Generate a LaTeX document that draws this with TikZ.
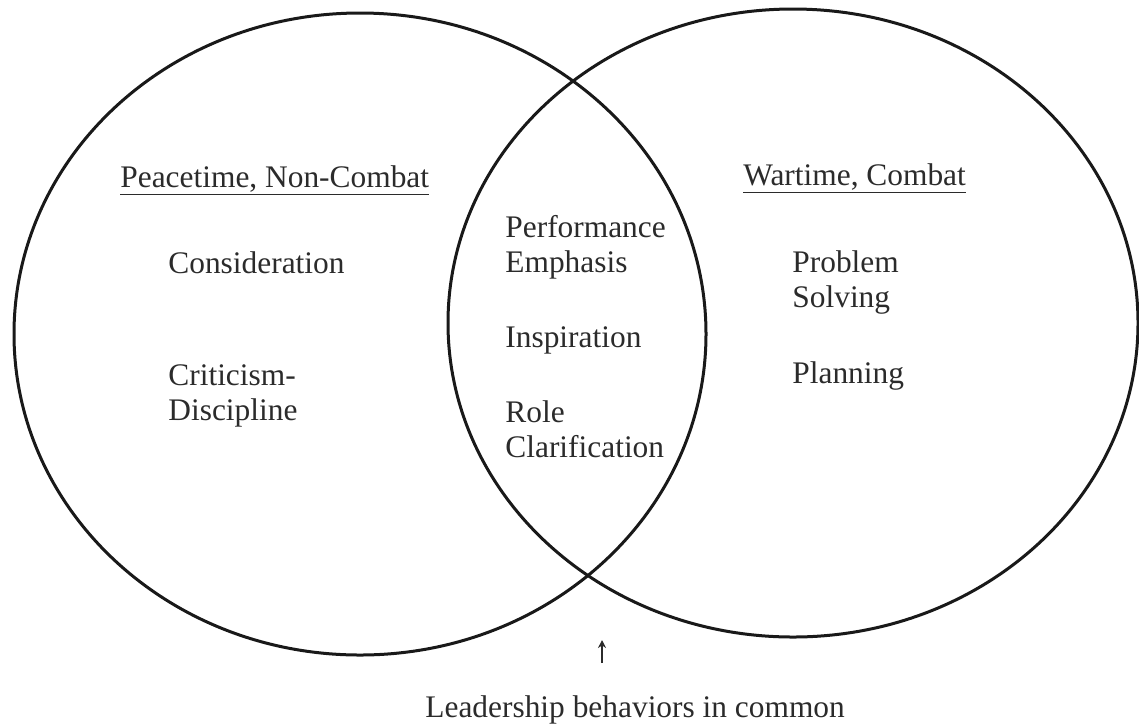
\documentclass[tikz,border=0pt]{standalone}
\usepackage{fontspec}
\setmainfont{Liberation Serif}
\usepackage{tikz}
\usetikzlibrary{arrows.meta}
\definecolor{ink}{HTML}{2B2B2B}

\tikzset{
  circ/.style={draw=black!90, line width=1.5pt},
  % base anchor of a two-line item is the baseline of its last line
  item/.style={anchor=base west, align=left, inner sep=0pt, text=ink,
               font=\fontsize{15.7}{17.5}\selectfont},
}

\begin{document}
\begin{tikzpicture}[x=0.5pt, y=-0.5pt]
    \useasboundingbox (0,0) rectangle (1139,725);

    % the two sets
    \draw[circ] (360,334) ellipse [x radius=346, y radius=321];
    \draw[circ] (793,323) ellipse [x radius=345, y radius=314];

    % left set
    \node[item] (peace)  at (120,187) {\underline{Peacetime, Non-Combat}};
    \node[item] (consid) at (168,273) {Consideration};
    \node[item] (critic) at (168,420) {Criticism-\\Discipline};

    % overlap
    \node[item] (perf)   at (505,272) {Performance\\Emphasis};
    \node[item] (inspir) at (505,347) {Inspiration};
    \node[item] (role)   at (505,457) {Role\\Clarification};

    % right set
    \node[item] (war)     at (743,185) {\underline{Wartime, Combat}};
    \node[item] (problem) at (792,307) {Problem\\Solving};
    \node[item] (plan)    at (792,383) {Planning};

    % caption under the overlap
    \node[item] (common) at (425,717) {Leadership behaviors in common};
    \coordinate (tail) at (602,663);
    \coordinate (tip)  at (602,640);
    \draw[ink, line width=0.7pt, -{Stealth[length=4pt, width=4pt]}] (tail) -- (tip);
\end{tikzpicture}
\end{document}
